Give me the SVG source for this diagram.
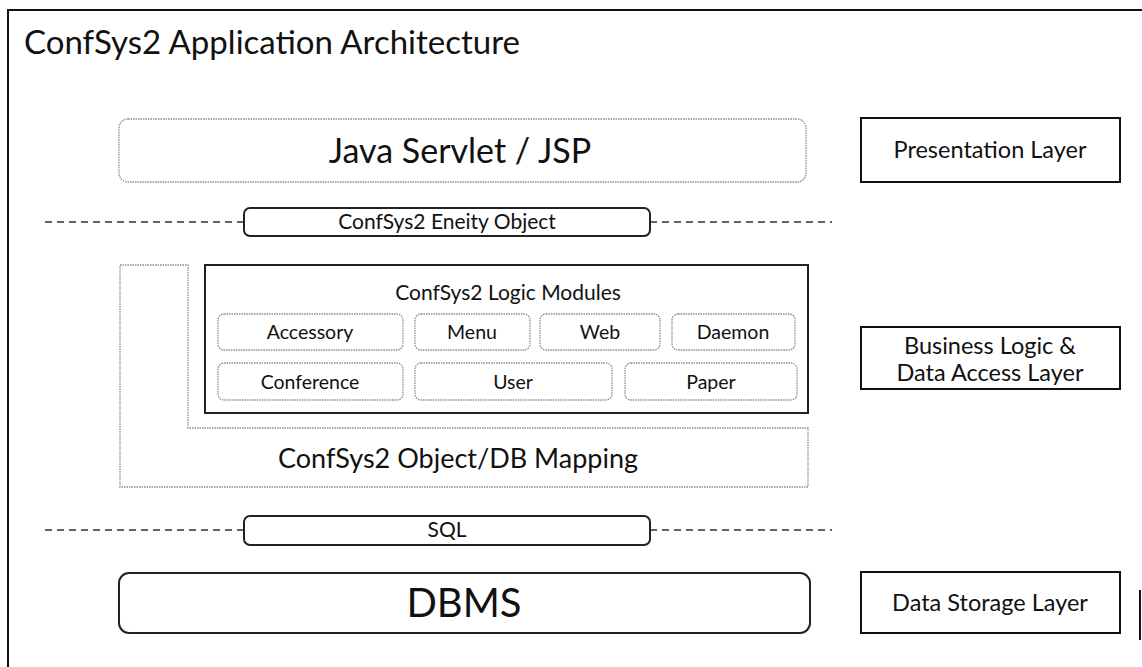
<svg xmlns="http://www.w3.org/2000/svg" width="1142" height="667" viewBox="0 0 1142 667">
  <style>
    text { font-family: Lato, "Open Sans", "Liberation Sans", sans-serif; fill: #111; text-anchor: middle; }
    .soft { fill: #fff; stroke: #8a8a8a; stroke-width: 1.3; stroke-dasharray: 1.5 1; }
    .hard { fill: #fff; stroke: #222; stroke-width: 2; }
    .layer { fill: #fff; stroke: #111; stroke-width: 2; }
    .sep { stroke: #333; stroke-width: 1.6; stroke-dasharray: 7 5; fill: none; }
    .frame { stroke: #111; stroke-width: 2; fill: none; }
    .mod { font-size: 19.5px; }
    .lyr { font-size: 23.5px; }
  </style>

  <!-- page frame -->
  <g id="frame">
    <path class="frame" d="M8,667 V10 H1142"/>
    <path class="frame" d="M1140,590 V640"/>
  </g>

  <text id="title" x="24" y="54" style="text-anchor:start;font-size:33px">ConfSys2 Application Architecture</text>

  <!-- layer separators -->
  <g id="connectors">
    <path class="sep" d="M45,222 H244 M650,222 H832"/>
    <path class="sep" d="M45,530 H244 M650,530 H832"/>
  </g>

  <g id="java-servlet">
    <rect class="soft" x="119" y="119" width="687" height="63" rx="9"/>
    <text x="460" y="163" style="font-size:34px">Java Servlet / JSP</text>
  </g>

  <g id="entity-object">
    <rect class="hard" x="244" y="208" width="406" height="28" rx="6"/>
    <text x="447" y="229" style="font-size:21px">ConfSys2 Eneity Object</text>
  </g>

  <g id="object-db-mapping">
    <path class="soft" d="M120,265 H188 V428 H808 V487 H120 Z"/>
    <text x="458" y="468" style="font-size:27px">ConfSys2 Object/DB Mapping</text>
  </g>

  <g id="logic-modules">
    <rect class="hard" x="205" y="265" width="603" height="148"/>
    <text x="508" y="300" style="font-size:21px">ConfSys2 Logic Modules</text>
  </g>

  <g id="mod-accessory">
    <rect class="soft" x="218" y="314" width="185" height="36" rx="6"/>
    <text class="mod" x="310" y="339">Accessory</text>
  </g>
  <g id="mod-menu">
    <rect class="soft" x="415" y="314" width="115" height="36" rx="6"/>
    <text class="mod" x="472" y="339">Menu</text>
  </g>
  <g id="mod-web">
    <rect class="soft" x="540" y="314" width="120" height="36" rx="6"/>
    <text class="mod" x="600" y="339">Web</text>
  </g>
  <g id="mod-daemon">
    <rect class="soft" x="672" y="314" width="123" height="36" rx="6"/>
    <text class="mod" x="733" y="339">Daemon</text>
  </g>
  <g id="mod-conference">
    <rect class="soft" x="218" y="363" width="185" height="37" rx="6"/>
    <text class="mod" x="310" y="389">Conference</text>
  </g>
  <g id="mod-user">
    <rect class="soft" x="415" y="363" width="197" height="37" rx="6"/>
    <text class="mod" x="513" y="389">User</text>
  </g>
  <g id="mod-paper">
    <rect class="soft" x="625" y="363" width="172" height="37" rx="6"/>
    <text class="mod" x="711" y="389">Paper</text>
  </g>

  <g id="sql">
    <rect class="hard" x="244" y="516" width="406" height="29" rx="6"/>
    <text x="447" y="537" style="font-size:21px">SQL</text>
  </g>

  <g id="dbms">
    <rect class="hard" x="119" y="573" width="691" height="60" rx="10"/>
    <text x="464" y="617" style="font-size:40px">DBMS</text>
  </g>

  <g id="presentation-layer">
    <rect class="layer" x="861" y="118" width="259" height="64"/>
    <text class="lyr" x="990" y="158">Presentation Layer</text>
  </g>

  <g id="business-layer">
    <rect class="layer" x="861" y="327" width="259" height="62"/>
    <text class="lyr" x="990" y="354">Business Logic &amp;</text>
    <text class="lyr" x="990" y="381">Data Access Layer</text>
  </g>

  <g id="storage-layer">
    <rect class="layer" x="861" y="572" width="259" height="61"/>
    <text class="lyr" x="990" y="611">Data Storage Layer</text>
  </g>
</svg>
